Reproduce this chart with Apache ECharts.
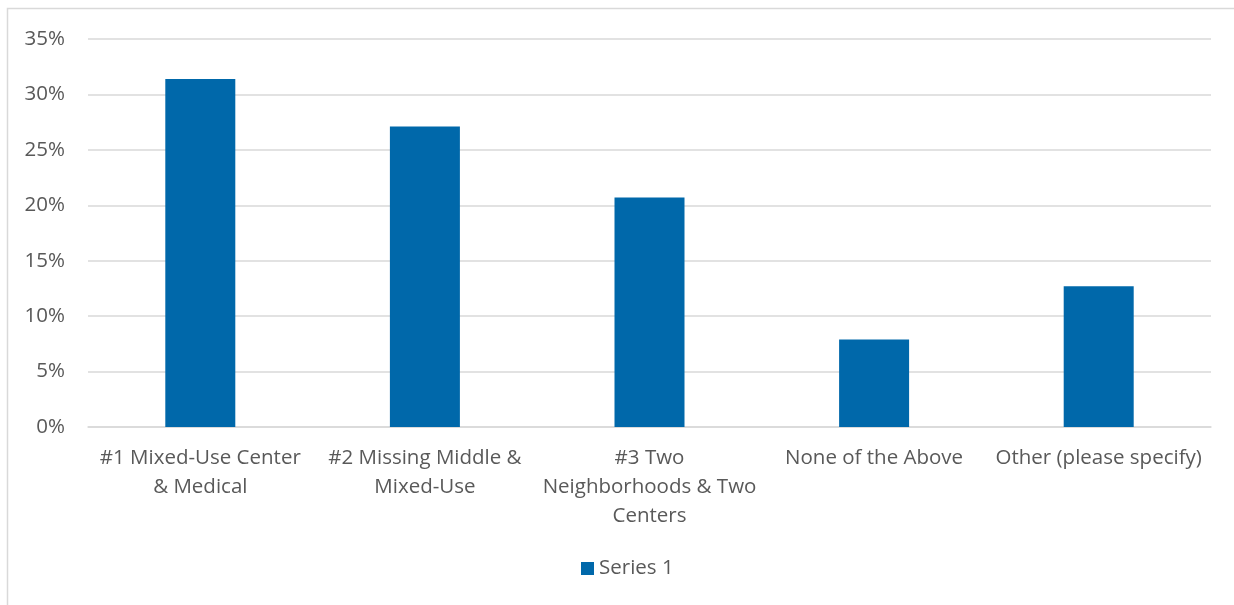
<!DOCTYPE html>
<html>
<head>
<meta charset="utf-8">
<script src="https://cdn.jsdelivr.net/npm/echarts@6/dist/echarts.min.js"></script>
<style>
  html, body { margin: 0; padding: 0; background: #fff; }
  #chart { width: 1234px; height: 605px; }
</style>
</head>
<body>
<div id="chart"></div>
<script>
// Survey options and the share of respondents choosing each one
const categories = [
  '#1 Mixed-Use Center\n& Medical',
  '#2 Missing Middle &\nMixed-Use',
  '#3 Two\nNeighborhoods & Two\nCenters',
  'None of the Above',
  'Other (please specify)'
];
const series1 = [31.4, 27.1, 20.7, 7.9, 12.7];
const yTicks = [0, 5, 10, 15, 20, 25, 30, 35];

const textColor = '#595959';
const fontFamily = '"Open Sans", "Noto Sans", sans-serif';
const fontSize = 20.5;

const chart = echarts.init(document.getElementById('chart'), null, { renderer: 'canvas' });
chart.setOption({
  animation: false,
  backgroundColor: '#ffffff',
  graphic: [{
    type: 'rect',
    shape: { x: 7.5, y: 8.5, width: 1240, height: 620 },
    style: { fill: 'none', stroke: '#d9d9d9', lineWidth: 1.5 },
    silent: true
  }],
  grid: { left: 88, right: 23, top: 39, bottom: 178, containLabel: false },
  legend: {
    data: ['Series 1'],
    top: 558,
    left: 581,
    padding: 0,
    itemWidth: 13,
    itemHeight: 13,
    itemGap: 6,
    icon: 'rect',
    textStyle: { color: textColor, fontSize: fontSize, fontFamily: fontFamily }
  },
  xAxis: {
    type: 'category',
    data: categories,
    axisLine: { show: true, lineStyle: { color: '#d9d9d9', width: 1.5 } },
    axisTick: { show: false },
    axisLabel: {
      interval: 0,
      color: textColor,
      fontSize: fontSize,
      fontFamily: fontFamily,
      lineHeight: 29,
      margin: 17,
      align: 'center'
    }
  },
  yAxis: {
    type: 'value',
    min: yTicks[0],
    max: yTicks[yTicks.length - 1],
    interval: 5,
    axisLine: { show: false },
    axisTick: { show: false },
    splitLine: { lineStyle: { color: '#d9d9d9', width: 1.5 } },
    axisLabel: {
      color: textColor,
      fontSize: fontSize,
      fontFamily: fontFamily,
      margin: 23,
      formatter: v => v + '%'
    }
  },
  series: [{
    name: 'Series 1',
    type: 'bar',
    data: series1,
    barWidth: 70,
    itemStyle: { color: '#0068aa' }
  }]
});
</script>
</body>
</html>
